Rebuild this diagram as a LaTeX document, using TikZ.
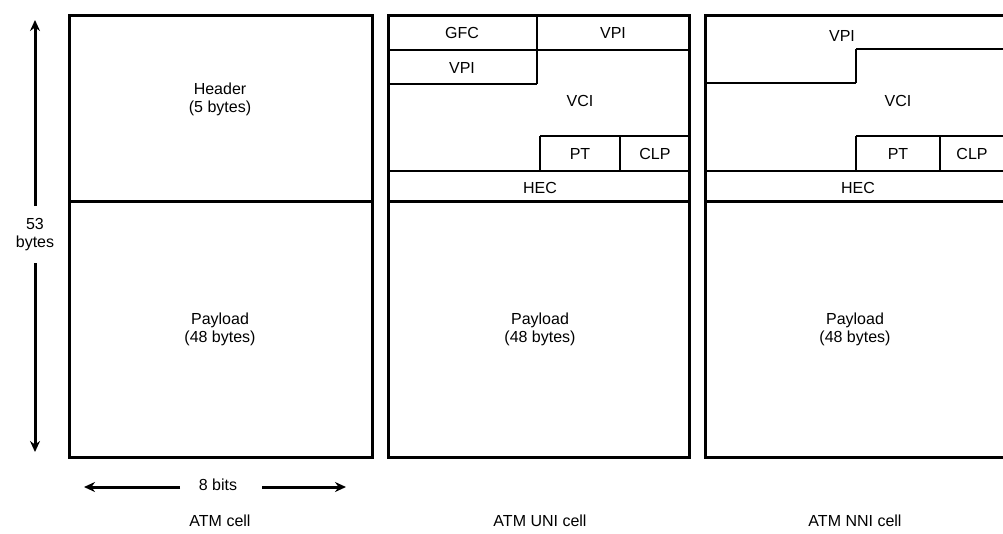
\documentclass[tikz,border=0pt]{standalone}
\usepackage{fontspec}
\setmainfont{Liberation Sans}
\usetikzlibrary{arrows.meta}
\begin{document}
\begin{tikzpicture}[x=1pt,y=-1pt,
  lbl/.style={font=\fontsize{16}{18}\selectfont, inner sep=0pt, align=center},
  frame/.style={line width=3pt},
  part/.style={line width=2.6pt},
  dimline/.style={line width=3pt,-{Stealth[length=11pt,width=10pt]}}]
\useasboundingbox (0,0) rectangle (1003,533);
\clip (0,0) rectangle (1003,533);
% ---- ATM cell ----
\draw[frame] (69,15) rectangle (372,457);
\draw[frame] (69,201) -- (372,201);
\node[lbl] (hdr) at (220,99) {Header\\(5 bytes)};
\node[lbl] (pl1) at (220,329) {Payload\\(48 bytes)};
% ---- ATM UNI cell ----
\draw[frame] (388,15) rectangle (689,457);
\draw[part] (388,50) -- (689,50);
\draw[part] (537,15) -- (537,84);
\draw[part] (388,84) -- (537,84);
\draw[part] (540,136) -- (689,136);
\draw[part] (540,136) -- (540,171);
\draw[part] (620,136) -- (620,171);
\draw[part] (388,171) -- (689,171);
\draw[frame] (388,201) -- (689,201);
\node[lbl] (gfc) at (462,33) {GFC};
\node[lbl] (vpia) at (613,33) {VPI};
\node[lbl] (vpib) at (462,68) {VPI};
\node[lbl] (vci2) at (580,101) {VCI};
\node[lbl] (pt2) at (580,154) {PT};
\node[lbl] (clp2) at (655,154) {CLP};
\node[lbl] (hec2) at (540,188) {HEC};
\node[lbl] (pl2) at (540,329) {Payload\\(48 bytes)};
% ---- ATM NNI cell ----
\draw[frame] (705,15) rectangle (1008,457);
\draw[part] (856,49) -- (1008,49);
\draw[part] (856,49) -- (856,83);
\draw[part] (705,83) -- (856,83);
\draw[part] (856,136) -- (1008,136);
\draw[part] (856,136) -- (856,171);
\draw[part] (940,136) -- (940,171);
\draw[part] (705,171) -- (1008,171);
\draw[frame] (705,201) -- (1008,201);
\node[lbl] (vpi3) at (842,36) {VPI};
\node[lbl] (vci3) at (898,101) {VCI};
\node[lbl] (pt3) at (898,154) {PT};
\node[lbl] (clp3) at (972,154) {CLP};
\node[lbl] (hec3) at (858,188) {HEC};
\node[lbl] (pl3) at (855,329) {Payload\\(48 bytes)};
% ---- dimensions ----
\node[lbl] (bytes) at (35,235) {53\\bytes};
\coordinate (btop) at (35,20);
\coordinate (bbot) at (35,452);
\draw[dimline] (bytes.north |- 0,206) -- (btop);
\draw[dimline] (bytes.south |- 0,263) -- (bbot);
\node[lbl] (bits) at (218,485) {8 bits};
\coordinate (bl) at (84,487);
\coordinate (br) at (346,487);
\draw[dimline] (180,487) -- (bl);
\draw[dimline] (262,487) -- (br);
% ---- captions ----
\node[lbl] (c1) at (220,521) {ATM cell};
\node[lbl] (c2) at (540,521) {ATM UNI cell};
\node[lbl] (c3) at (855,521) {ATM NNI cell};
\end{tikzpicture}
\end{document}
